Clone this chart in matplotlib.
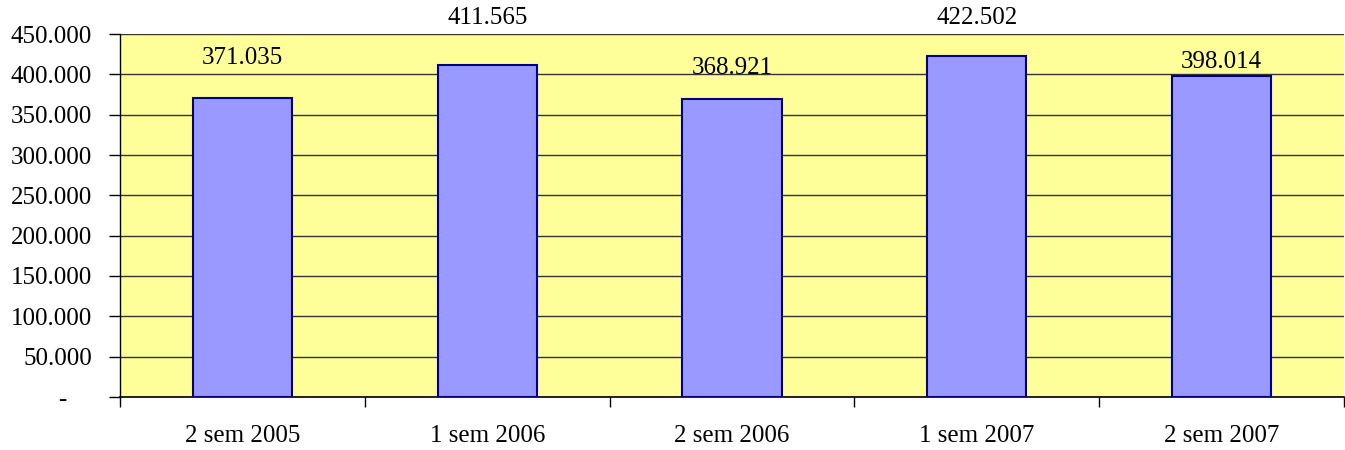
import matplotlib.pyplot as plt
import numpy as np

# data
categories = ["2 sem 2005", "1 sem 2006", "2 sem 2006", "1 sem 2007", "2 sem 2007"]
values = [371035, 411565, 368921, 422502, 398014]
y_ticks = [0, 50000, 100000, 150000, 200000, 250000, 300000, 350000, 400000, 450000]

# label offsets above bar tops (pixels), as placed in the original
label_offsets = [40, 47, 31, 38, 14]

def fmt(v):
    if v == 0:
        return "-    "  # accounting style zero, sits left of the column
    return f"{v:,.0f}".replace(",", ".")

plt.rcParams['font.family'] = ['Liberation Serif', 'DejaVu Serif']

fig = plt.figure(figsize=(13.45, 4.5), dpi=100)
ax = fig.add_axes([120/1345, 53/450, 1224/1345, 363/450])
ax.set_facecolor("#FFFF99")

x = np.arange(len(categories))
ax.bar(x, values, width=0.405, color="#9999FF", edgecolor="#000080", linewidth=1.5, zorder=3)

ax.set_xlim(-0.5, len(categories) - 0.5)
ax.set_ylim(0, 450000)

ax.set_yticks(y_ticks)
ax.set_yticklabels([fmt(v) for v in y_ticks], fontsize=18)
ax.yaxis.grid(True, color="#333333", linewidth=1, zorder=1)
ax.tick_params(axis="y", length=8, width=1, pad=12)

# category ticks at the boundaries, labels in the middle
ax.set_xticks(np.arange(len(categories) + 1) - 0.5)
ax.set_xticklabels([])
ax.set_xticks(x, minor=True)
ax.set_xticklabels(categories, minor=True, fontsize=18)
ax.tick_params(axis="x", which="major", length=7, width=1)
ax.tick_params(axis="x", which="minor", length=0, pad=20)

for s in ["top", "right"]:
    ax.spines[s].set_visible(False)
ax.spines["left"].set_linewidth(1)
ax.spines["bottom"].set_linewidth(1.2)

for xi, v, off in zip(x, values, label_offsets):
    ax.annotate(fmt(v), (xi, v), xytext=(0, off), textcoords="offset pixels",
                ha="center", va="center", fontsize=18, annotation_clip=False, zorder=4)

fig.savefig("out.png", dpi=100)
